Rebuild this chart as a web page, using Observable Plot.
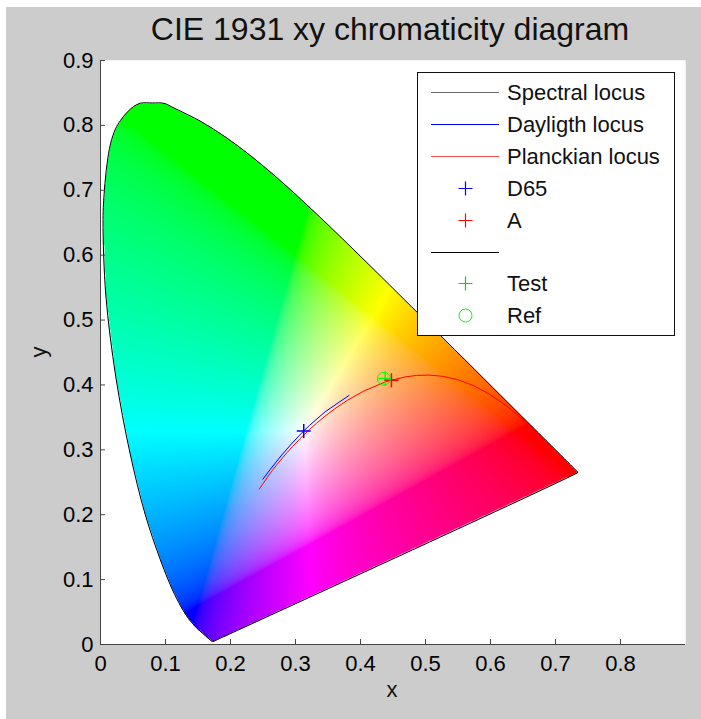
<!DOCTYPE html>
<html>
<head>
<meta charset="utf-8">
<script src="https://cdn.jsdelivr.net/npm/d3@7"></script>
<script src="https://cdn.jsdelivr.net/npm/@observablehq/plot@0.6"></script>
<style>
  body { margin: 0; background: #ffffff; }
  #fig { position: relative; width: 701px; height: 719px; background: #ffffff; overflow: hidden;
         font-family: "Liberation Sans", Arial, Helvetica, sans-serif; }
  #bg { position: absolute; left: 6px; top: 7px; right: 0; bottom: 0; background: #cccccc; }
  #fig svg { position: absolute; left: 0; top: 0; }
</style>
</head>
<body>
<div id="fig"><div id="bg"></div></div>
<script>
// ---- data ----
const titleText = "CIE 1931 xy chromaticity diagram";
const xLabel = "x";
const yLabel = "y";
const xTicks = [0, 0.1, 0.2, 0.3, 0.4, 0.5, 0.6, 0.7, 0.8];
const yTicks = [0, 0.1, 0.2, 0.3, 0.4, 0.5, 0.6, 0.7, 0.8, 0.9];

// CIE 1931 2° spectral locus (380-700 nm, denser near the green peak)
const spectralX = [0.1741,0.1740,0.1738,0.1736,0.1733,0.1730,0.1726,0.1721,0.1714,0.1703,0.1689,0.1669,0.1644,0.1611,0.1566,0.1510,0.1440,0.1355,0.1241,0.1096,0.0913,0.0687,0.0454,0.0235,0.0082,0.0039,0.0060,0.0100,0.0154,0.0231,0.0308,0.0410,0.0510,0.0615,0.0800,0.0974,0.1142,0.1547,0.1929,0.2296,0.2658,0.3016,0.3373,0.3731,0.4087,0.4441,0.4788,0.5125,0.5448,0.5752,0.6029,0.6270,0.6482,0.6658,0.6801,0.6915,0.7006,0.7079,0.7140,0.7190,0.7230,0.7260,0.7283,0.7300,0.7311,0.7320,0.7327,0.7334,0.7340,0.7344,0.7346,0.7347];
const spectralY = [0.0050,0.0050,0.0049,0.0049,0.0048,0.0048,0.0048,0.0048,0.0051,0.0058,0.0069,0.0086,0.0109,0.0138,0.0177,0.0227,0.0297,0.0399,0.0578,0.0868,0.1327,0.2007,0.2950,0.4127,0.5384,0.6548,0.7000,0.7400,0.7716,0.7947,0.8075,0.8203,0.8291,0.8342,0.8345,0.8340,0.8262,0.8059,0.7816,0.7543,0.7243,0.6923,0.6589,0.6245,0.5896,0.5547,0.5202,0.4866,0.4544,0.4242,0.3965,0.3725,0.3514,0.3340,0.3197,0.3083,0.2993,0.2920,0.2859,0.2809,0.2770,0.2740,0.2717,0.2700,0.2689,0.2680,0.2673,0.2666,0.2660,0.2656,0.2654,0.2653];

// Daylight locus, 4000 K - 25000 K
const daylightX = [0.3823,0.3457,0.3217,0.3128,0.3054,0.2938,0.2788,0.2614,0.2499];
const daylightY = [0.3838,0.3587,0.3378,0.3292,0.3216,0.3092,0.2920,0.2702,0.2548];

// Planckian locus, 1000 K - 50000 K
const planckX = [0.6528,0.6251,0.5985,0.5732,0.5493,0.5267,0.5056,0.4862,0.4685,0.4476,0.4369,0.4053,0.3805,0.3608,0.3451,0.3325,0.3221,0.3135,0.3064,0.2952,0.2869,0.2807,0.2720,0.2642,0.2568,0.2499,0.2444];
const planckY = [0.3444,0.3674,0.3858,0.3993,0.4082,0.4133,0.4152,0.4147,0.4123,0.4074,0.4041,0.3907,0.3768,0.3636,0.3516,0.3411,0.3318,0.3236,0.3166,0.3048,0.2956,0.2884,0.2779,0.2679,0.2577,0.2478,0.2396];

const pointNames = ["D65", "A", "Test", "Ref"];
const pointX = [0.3127, 0.4476, 0.4380, 0.4360];
const pointY = [0.3290, 0.4074, 0.4100, 0.4095];

const legendLabels = ["Spectral locus", "Dayligth locus", "Planckian locus", "D65", "A", "", "Test", "Ref"];

// ---- build tables ----
const zip = (xs, ys) => xs.map((x, i) => ({x, y: ys[i]}));
const spectral = zip(spectralX, spectralY);
const spectralClosed = spectral.concat([spectral[0]]);
const daylight = zip(daylightX, daylightY);
const planck = zip(planckX, planckY);
const pts = pointNames.map((n, i) => ({name: n, x: pointX[i], y: pointY[i]}));
const poly = spectral.map(d => [d.x, d.y]);

function chroma(x, y) {
  if (y <= 0 || !d3.polygonContains(poly, [x, y])) return "white";
  const X = x / y, Y = 1, Z = (1 - x - y) / y;
  let r = 3.2406 * X - 1.5372 * Y - 0.4986 * Z;
  let g = -0.9689 * X + 1.8758 * Y + 0.0415 * Z;
  let b = 0.0557 * X - 0.2040 * Y + 1.0570 * Z;
  r = Math.max(0, r); g = Math.max(0, g); b = Math.max(0, b);
  const m = Math.max(r, g, b) || 1;
  const gam = v => v <= 0.0031308 ? 12.92 * v : 1.055 * Math.pow(v, 1 / 2.4) - 0.055;
  return d3.rgb(255 * gam(r / m), 255 * gam(g / m), 255 * gam(b / m)).formatHex();
}

const thinPlus = {
  draw(ctx, size) {
    const r = Math.sqrt(size / Math.PI);
    ctx.moveTo(-r, 0); ctx.lineTo(r, 0);
    ctx.moveTo(0, -r); ctx.lineTo(0, r);
  }
};

const W = 701, H = 719, mL = 100, mR = 16, mT = 60, mB = 75;
const fW = W - mL - mR, fH = H - mT - mB;
const fontFamily = '"Liberation Sans", Arial, Helvetica, sans-serif';

const chart = Plot.plot({
  width: W, height: H,
  marginLeft: mL, marginRight: mR, marginTop: mT, marginBottom: mB,
  x: {domain: [0, 0.9]},
  y: {domain: [0, 0.9]},
  color: {type: "identity"},
  style: {background: "transparent", fontFamily, fontSize: "22px", color: "black", overflow: "visible"},
  marks: [
    Plot.frame({fill: "white", stroke: "none"}),
    Plot.raster({x1: 0, x2: 0.9, y1: 0, y2: 0.9, pixelSize: 1, fill: (x, y) => chroma(x, y)}),
    Plot.line(spectralClosed, {x: "x", y: "y", stroke: "black", strokeWidth: 1, curve: "catmull-rom"}),
    Plot.line(planck, {x: "x", y: "y", stroke: "red", strokeWidth: 1}),
    Plot.line(daylight, {x: "x", y: "y", stroke: "blue", strokeWidth: 1}),
    Plot.dot(pts.filter(d => d.name === "D65"), {x: "x", y: "y", symbol: thinPlus, r: 7, stroke: "blue", fill: "none"}),
    Plot.dot(pts.filter(d => d.name === "Test"), {x: "x", y: "y", symbol: thinPlus, r: 7, stroke: "#00ff00", fill: "none"}),
    Plot.dot(pts.filter(d => d.name === "A"), {x: "x", y: "y", symbol: thinPlus, r: 7, stroke: "red", fill: "none"}),
    Plot.dot(pts.filter(d => d.name === "Ref"), {x: "x", y: "y", symbol: "circle", r: 6.5, stroke: "#00ff00", fill: "none", strokeWidth: 1}),
    Plot.ruleX([0], {stroke: "#444"}),
    Plot.ruleY([0], {stroke: "#444"}),
    Plot.tickX(xTicks, {x: d => d, insetTop: fH - 5, stroke: "#444"}),
    Plot.tickY(yTicks, {y: d => d, insetRight: fW - 5, stroke: "#444"}),
    Plot.axisX({ticks: xTicks, tickSize: 0, tickPadding: 11, tickFormat: d => String(d), label: null, fontSize: 22}),
    Plot.axisY({ticks: yTicks, tickSize: 0, tickPadding: 7, tickFormat: d => String(d), label: null, fontSize: 22})
  ]
});

const fig = document.getElementById("fig");
fig.appendChild(chart);

// ---- overlay: title, axis labels, legend ----
const ov = d3.select(fig).append("svg")
  .attr("width", W).attr("height", H)
  .style("pointer-events", "none")
  .attr("font-family", fontFamily);

ov.append("text").attr("x", 390).attr("y", 40).attr("text-anchor", "middle")
  .attr("font-size", 32).attr("fill", "#111").text(titleText);
ov.append("text").attr("x", 392).attr("y", 697).attr("text-anchor", "middle")
  .attr("font-size", 22).attr("fill", "#111").text(xLabel);
ov.append("text").attr("transform", "translate(46,352) rotate(-90)").attr("text-anchor", "middle")
  .attr("font-size", 22).attr("fill", "#111").text(yLabel);

const lg = ov.append("g");
lg.append("rect").attr("x", 417.5).attr("y", 72.5).attr("width", 257).attr("height", 263)
  .attr("fill", "white").attr("stroke", "#111").attr("stroke-width", 1);
const rowY0 = 92, rowDy = 31.9;
const sampleKinds = [
  {type: "line", color: "#6a6a6a"},
  {type: "line", color: "#0000ff"},
  {type: "line", color: "#ff5050"},
  {type: "plus", color: "#0000ff"},
  {type: "plus", color: "#ff0000"},
  {type: "line", color: "#000000"},
  {type: "plus", color: "#00dd00"},
  {type: "circle", color: "#00ff00"}
];
legendLabels.forEach((lab, i) => {
  const yy = Math.round(rowY0 + i * rowDy) + 0.5;
  const s = sampleKinds[i];
  if (s.type === "line") {
    lg.append("line").attr("x1", 431).attr("x2", 499).attr("y1", yy).attr("y2", yy)
      .attr("stroke", s.color).attr("stroke-width", 1);
  } else if (s.type === "plus") {
    lg.append("path").attr("d", `M${458.5},${yy}H${472.5}M${465.5},${yy - 7}V${yy + 7}`)
      .attr("stroke", s.color).attr("fill", "none").attr("stroke-width", 1.2);
  } else {
    lg.append("circle").attr("cx", 465.5).attr("cy", yy).attr("r", 6.5)
      .attr("stroke", s.color).attr("fill", "none").attr("stroke-width", 1);
  }
  if (lab) lg.append("text").attr("x", 507).attr("y", yy + 7.5).attr("font-size", 22)
    .attr("fill", "#111").text(lab);
});
</script>
</body>
</html>
